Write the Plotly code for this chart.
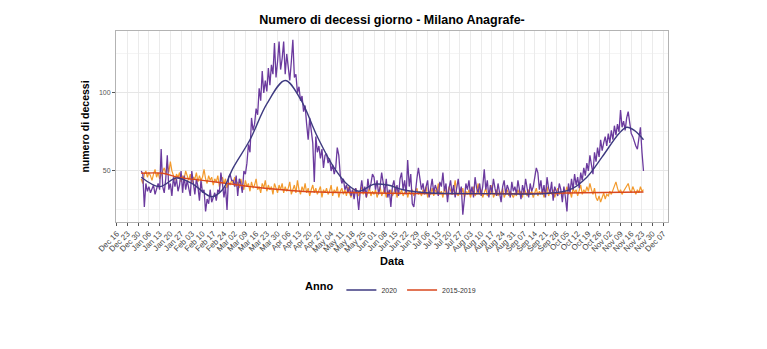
import pandas as pd
import plotly.graph_objects as go

# ---------------- data ----------------
start_date = "2020-01-01"

deaths_2020 = (
    # Jan
    [50, 48, 27, 42, 37, 40, 36, 38, 41, 35, 39, 42, 38, 64, 40, 36, 45, 60, 38, 42,
     34, 46, 40, 45, 37, 41, 50, 36, 47, 38, 44]
    # Feb
    + [38, 34, 50, 42, 35, 45, 40, 31, 44, 36, 38, 24, 32, 29, 38, 30, 34, 36, 31, 38,
       36, 49, 42, 33, 40, 25, 46, 48, 44]
    # Mar
    + [44, 40, 47, 34, 45, 42, 36, 50, 48, 55, 67, 62, 84, 76, 80, 90, 86, 103, 95, 114,
       100, 108, 101, 116, 105, 118, 112, 132, 110, 120, 133]
    # Apr
    + [115, 122, 133, 112, 125, 118, 108, 120, 134, 110, 112, 100, 104, 95, 98, 88, 92, 80, 70, 84,
       76, 68, 43, 72, 62, 66, 58, 64, 52, 60]
    # May
    + [61, 55, 58, 50, 54, 48, 52, 65, 60, 47, 42, 45, 38, 41, 36, 40, 34, 38, 32, 39,
       35, 25, 37, 44, 36, 40, 33, 45, 38, 42, 48]
    # Jun
    + [46, 38, 44, 35, 40, 49, 42, 36, 45, 33, 38, 27, 40, 44, 36, 41, 34, 45, 49, 38,
       44, 35, 57, 40, 48, 29, 27, 38, 45, 52]
    # Jul
    + [46, 38, 42, 35, 40, 44, 33, 39, 45, 36, 41, 38, 34, 43, 40, 49, 37, 42, 30, 39,
       44, 35, 41, 33, 38, 45, 36, 40, 22, 34, 42]
    # Aug
    + [38, 44, 35, 40, 33, 46, 39, 36, 42, 34, 40, 51, 38, 44, 33, 41, 36, 45, 39, 34,
       42, 37, 30, 40, 44, 35, 41, 38, 33, 43, 37]
    # Sep
    + [40, 35, 44, 38, 32, 41, 36, 45, 39, 33, 42, 37, 40, 46, 52, 49, 38, 44, 35, 41,
       33, 46, 39, 36, 43, 31, 40, 37, 34, 42]
    # Oct
    + [38, 30, 40, 33, 24, 42, 36, 45, 38, 48, 41, 46, 39, 49, 44, 52, 47, 55, 50, 60,
       53, 48, 62, 56, 65, 59, 70, 63, 68, 72, 66]
    # Nov
    + [74, 68, 76, 70, 79, 73, 80, 75, 89, 78, 82, 76, 84, 88, 79, 74, 72, 68, 66, 64,
       70, 78, 62, 50]
)

deaths_2015_2019 = (
    [45, 42, 48, 50, 46, 49, 47, 44, 48, 51, 46, 49, 45, 47, 50, 52, 48, 55, 49, 56,
     50, 47, 44, 48, 46, 49, 43, 47, 45, 50, 46]
    + [44, 48, 42, 46, 45, 49, 43, 47, 44, 46, 51, 45, 42, 47, 44, 46, 41, 45, 43, 47,
       40, 44, 46, 42, 45, 39, 43, 41, 44]
    + [42, 46, 40, 43, 39, 45, 41, 38, 44, 40, 42, 37, 43, 39, 41, 45, 38, 40, 36, 42,
       39, 44, 37, 41, 38, 40, 35, 42, 39, 36, 41]
    + [38, 42, 36, 40, 37, 39, 43, 35, 38, 41, 36, 44, 38, 35, 40, 37, 42, 36, 39, 34,
       38, 41, 36, 39, 35, 37, 40, 33, 38, 36]
    + [39, 35, 37, 41, 34, 38, 36, 40, 33, 37, 39, 35, 38, 34, 40, 36, 33, 38, 35, 39,
       36, 34, 37, 40, 35, 38, 33, 36, 39, 34, 37]
    + [35, 38, 33, 37, 40, 34, 36, 39, 33, 37, 35, 38, 34, 36, 40, 33, 37, 35, 38, 34,
       36, 39, 33, 37, 35, 38, 34, 36, 39, 35]
    + [37, 34, 38, 36, 40, 33, 37, 35, 39, 34, 38, 36, 42, 35, 37, 33, 39, 36, 34, 40,
       37, 35, 38, 44, 36, 34, 38, 35, 39, 33, 37]
    + [35, 38, 33, 37, 40, 34, 36, 42, 35, 38, 33, 36, 39, 34, 37, 35, 41, 33, 36, 38,
       34, 37, 35, 39, 33, 36, 38, 34, 37, 35, 33]
    + [36, 34, 38, 35, 37, 33, 39, 36, 34, 38, 35, 37, 33, 36, 39, 34, 37, 35, 38, 33,
       36, 40, 34, 37, 35, 38, 33, 36, 39, 35]
    + [37, 34, 38, 36, 40, 35, 37, 33, 39, 36, 38, 34, 37, 41, 35, 38, 36, 40, 37, 42,
       38, 35, 39, 33, 31, 34, 30, 33, 36, 32, 35]
    + [34, 37, 35, 38, 40, 43, 39, 36, 38, 35, 37, 39, 41, 42, 38, 36, 40, 37, 35, 38,
       36, 40, 37, 38]
)

# smoothed trend curves (read at anchor dates)
smooth_2020_dates = ["2020-01-01", "2020-01-13", "2020-01-24", "2020-02-03", "2020-02-16",
                     "2020-02-23", "2020-03-01", "2020-03-12", "2020-03-23", "2020-04-04",
                     "2020-04-14", "2020-04-25", "2020-05-06", "2020-05-15", "2020-05-22",
                     "2020-06-01", "2020-06-10", "2020-06-20", "2020-07-05", "2020-08-15",
                     "2020-09-20", "2020-10-07", "2020-10-18", "2020-10-28", "2020-11-08",
                     "2020-11-13", "2020-11-18", "2020-11-24"]
smooth_2020_vals = [46, 40, 45.5, 42, 33.5, 38, 52, 70, 93, 108, 96, 72, 52, 41, 37,
                    41.5, 41, 38, 36, 35.5, 35.5, 38, 46, 59, 74, 78, 76, 70]

smooth_ref_dates = ["2020-01-01", "2020-01-15", "2020-01-25", "2020-02-10", "2020-03-01",
                    "2020-03-12", "2020-04-14", "2020-05-27", "2020-07-01", "2020-09-01",
                    "2020-10-15", "2020-11-24"]
smooth_ref_vals = [48.5, 48.5, 46, 44, 41.5, 40, 37, 36, 35.5, 35.5, 36, 36.5]

tick_dates = pd.date_range("2019-12-16", "2020-12-07", freq="7D")

dates = pd.date_range(start_date, periods=len(deaths_2020), freq="D")
dates_ref = pd.date_range(start_date, periods=len(deaths_2015_2019), freq="D")

# ---------------- figure ----------------
fig = go.Figure()

fig.add_trace(go.Scatter(x=dates_ref, y=deaths_2015_2019, mode="lines",
                         line=dict(color="#F39A2C", width=1.2), showlegend=False,
                         hoverinfo="skip"))
fig.add_trace(go.Scatter(x=dates, y=deaths_2020, mode="lines",
                         line=dict(color="#6B3A9E", width=1.3), showlegend=False,
                         hoverinfo="skip"))
fig.add_trace(go.Scatter(x=smooth_ref_dates, y=smooth_ref_vals, mode="lines",
                         line=dict(color="#D9471E", width=1.4, shape="spline"),
                         name="2015-2019", legendrank=2))
fig.add_trace(go.Scatter(x=smooth_2020_dates, y=smooth_2020_vals, mode="lines",
                         line=dict(color="#3E3A80", width=1.4, shape="spline"),
                         name="2020", legendrank=1))

font_family = "Liberation Sans, Arial, sans-serif"

fig.update_layout(
    width=767, height=349,
    margin=dict(l=116, r=99, t=31, b=127),
    paper_bgcolor="white", plot_bgcolor="white",
    font=dict(family=font_family, color="#222"),
    title=dict(text="<b>Numero di decessi giorno - Milano Anagrafe-</b>",
               x=(116 + 668) / 2 / 767, xanchor="center", y=1 - 20 / 349, yanchor="middle",
               font=dict(size=12.5, color="black", family=font_family)),
    legend=dict(orientation="h", x=0.5, xanchor="center", y=-0.356, yanchor="middle",
                title=dict(text="<b>Anno</b>", side="left",
                           font=dict(size=11, color="black")),
                font=dict(size=7, color="#333"), bgcolor="rgba(0,0,0,0)",
                itemwidth=30),
)

fig.update_xaxes(
    range=["2019-12-15 12:00", "2020-12-10"],
    tickvals=tick_dates, tickformat="%b %d", tickangle=-45,
    tickfont=dict(size=8, color="#444"),
    ticks="outside", ticklen=3, tickcolor="#555", tickwidth=1,
    showgrid=True, gridcolor="#EBEBEB", gridwidth=1,
    showline=True, linecolor="#B3B3B3", linewidth=1, mirror=True,
    zeroline=False,
    title=dict(text="<b>Data</b>", font=dict(size=11, color="black"), standoff=3),
)
fig.update_yaxes(
    range=[17.3, 139.7],
    tickvals=[50, 100], ticktext=["50", "100"],
    tickfont=dict(size=7, color="#555"),
    ticks="outside", ticklen=3, tickcolor="#555",
    showgrid=True, gridcolor="#E6E6E6", gridwidth=1,
    minor=dict(tickvals=[25, 75, 125], showgrid=True, gridcolor="#F4F4F4", ticks=""),
    showline=True, linecolor="#B3B3B3", linewidth=1, mirror=True,
    zeroline=False,
    title=dict(text="<b>numero di decessi</b>", font=dict(size=10.5, color="black"), standoff=7),
)

fig.write_html("out.html")
